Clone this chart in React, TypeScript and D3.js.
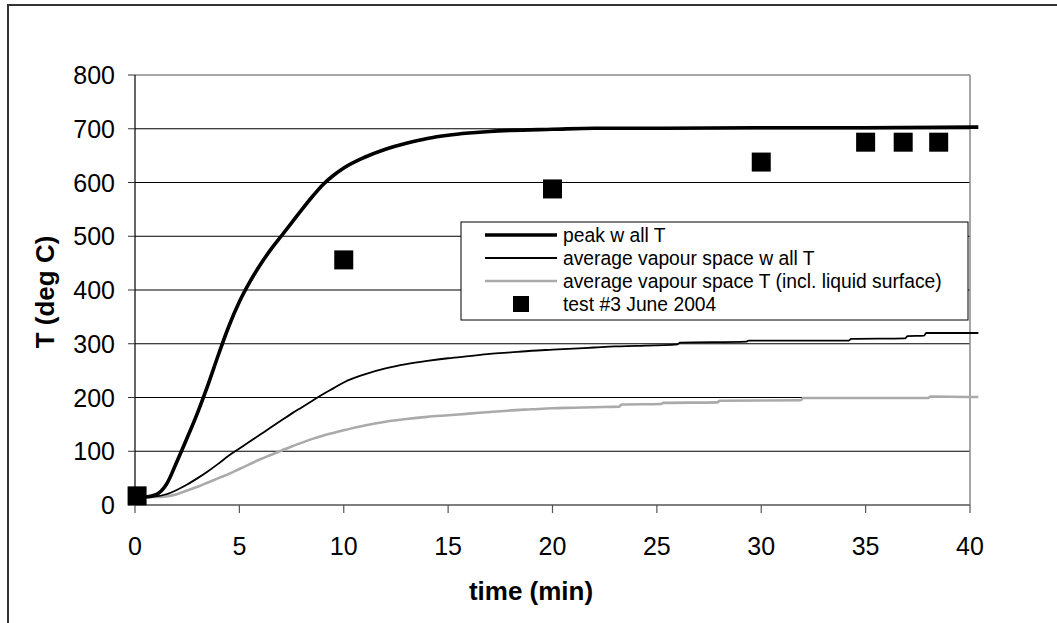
import React from "react";
import * as d3 from "d3";

// Temperature histories (time in min, temperature in deg C)
const peakWallT: [number, number][] = [
  [0, 15], [0.5, 15], [1, 19], [1.5, 38], [2, 80], [2.5, 125], [3, 172], [3.5, 224],
  [4, 280], [4.5, 333], [5, 378], [5.5, 415], [6, 447], [6.5, 475], [7, 500], [7.5, 525],
  [8, 550], [8.5, 574], [9, 596], [9.5, 613], [10, 627], [11, 647], [12, 662], [13, 673],
  [14, 682], [15, 688], [16, 692], [17, 695], [18, 697], [20, 699], [22, 701], [25, 701],
  [30, 702], [35, 702], [40.4, 703],
];

const avgVapourWallT: [number, number][] = [
  [0, 15], [1, 16], [1.5, 20], [2, 28], [2.5, 38], [3, 50], [3.5, 63], [4, 77], [4.5, 92],
  [5, 105], [5.5, 118], [6, 131], [6.5, 144], [7, 157], [7.5, 170], [8, 182], [8.5, 194],
  [9, 206], [9.5, 217], [10, 228], [11, 243], [12, 254], [13, 262], [14, 268], [15, 273],
  [16, 277], [17, 281], [18, 284], [19, 287], [20, 289], [21, 291], [22, 293], [23, 295],
  [24, 296], [26, 299], [26.1, 302], [29.3, 304], [29.4, 306], [34.2, 306], [34.3, 309],
  [36.9, 310], [37, 314], [37.8, 315], [37.9, 320], [40.4, 320],
];

const avgVapourSpaceT: [number, number][] = [
  [0, 15], [1, 15], [1.5, 16], [2, 20], [2.5, 27], [3, 34], [3.5, 42], [4, 50], [4.5, 58],
  [5, 67], [5.5, 76], [6, 85], [6.5, 93], [7, 101], [7.5, 109], [8, 116], [8.5, 123],
  [9, 129], [9.5, 134], [10, 139], [11, 148], [12, 155], [13, 160], [14, 164], [15, 167],
  [16, 170], [17, 173], [18, 176], [19, 178], [20, 180], [21, 181], [22, 182], [23.2, 183],
  [23.3, 187], [25.2, 188], [25.3, 190], [27.9, 191], [28, 194], [31.9, 195], [32, 199],
  [38, 199], [38.1, 202], [40.4, 201],
];

// Measured points, test #3 June 2004
const testTime = [0.1, 10, 20, 30, 35, 36.8, 38.5];
const testTemp = [17, 456, 588, 638, 675, 675, 675];

const xTicks = [0, 5, 10, 15, 20, 25, 30, 35, 40];
const yTicks = [0, 100, 200, 300, 400, 500, 600, 700, 800];

const legendLabels = [
  "peak w all T",
  "average vapour space w all T",
  "average vapour space T (incl. liquid surface)",
  "test #3 June 2004",
];

const W = 1057;
const H = 623;
const plot = { left: 135, right: 970, top: 75, bottom: 505 };
const FONT = "'Liberation Sans', Arial, Helvetica, sans-serif";

export default function App() {
  const x = d3.scaleLinear().domain([0, 40]).range([plot.left, plot.right]);
  const y = d3.scaleLinear().domain([0, 800]).range([plot.bottom, plot.top]);

  const line = d3
    .line<[number, number]>()
    .x((d) => x(d[0]))
    .y((d) => y(d[1]))
    .curve(d3.curveMonotoneX);

  const sq = 19;
  const legend = { x: 461, y: 222, w: 507, h: 98 };
  const rowY = [235, 258, 281, 304];
  const sampleX0 = 485;
  const sampleX1 = 557;
  const textX = 563;

  return (
    <svg
      width={W}
      height={H}
      style={{ position: "absolute", left: 0, top: 0, background: "#fff" }}
      fontFamily={FONT}
    >
      {/* chart frame */}
      <rect x={8} y={5} width={W + 20} height={H + 20} fill="#fff" stroke="#333" strokeWidth={2} />

      {/* horizontal gridlines */}
      {yTicks
        .filter((t) => t > 0 && t < 800)
        .map((t) => (
          <line key={`g${t}`} x1={plot.left} x2={plot.right} y1={y(t)} y2={y(t)} stroke="#000" strokeWidth={1} />
        ))}

      {/* plot area border (top/right) */}
      <line x1={plot.left} x2={plot.right} y1={plot.top} y2={plot.top} stroke="#888" strokeWidth={1.5} />
      <line x1={plot.right} x2={plot.right} y1={plot.top} y2={plot.bottom} stroke="#888" strokeWidth={1.5} />

      {/* y axis */}
      <line x1={plot.left} x2={plot.left} y1={plot.top} y2={plot.bottom} stroke="#000" strokeWidth={1.2} />
      {yTicks.map((t) => (
        <g key={`y${t}`}>
          <line x1={plot.left - 7} x2={plot.left} y1={y(t)} y2={y(t)} stroke="#333" strokeWidth={1} />
          <text x={115} y={y(t)} textAnchor="end" dominantBaseline="central" fontSize={25} fill="#000">
            {t}
          </text>
        </g>
      ))}

      {/* x axis */}
      <line x1={plot.left} x2={plot.right} y1={plot.bottom} y2={plot.bottom} stroke="#555" strokeWidth={1.5} />
      {xTicks.map((t) => (
        <g key={`x${t}`}>
          <line x1={x(t)} x2={x(t)} y1={plot.bottom} y2={plot.bottom + 8} stroke="#555" strokeWidth={1.2} />
          <text x={x(t)} y={546} textAnchor="middle" dominantBaseline="central" fontSize={25} fill="#000">
            {t}
          </text>
        </g>
      ))}

      {/* axis titles */}
      <text x={531} y={591} textAnchor="middle" dominantBaseline="central" fontSize={26} fontWeight="bold">
        time (min)
      </text>
      <text
        transform={`translate(45,292) rotate(-90)`}
        textAnchor="middle"
        dominantBaseline="central"
        fontSize={26}
        fontWeight="bold"
      >
        T (deg C)
      </text>

      {/* model curves */}
      <path d={line(avgVapourSpaceT) ?? ""} fill="none" stroke="#aaa" strokeWidth={2.6} />
      <path d={line(avgVapourWallT) ?? ""} fill="none" stroke="#000" strokeWidth={1.8} />
      <path d={line(peakWallT) ?? ""} fill="none" stroke="#000" strokeWidth={3.6} />

      {/* test data */}
      {testTime.map((t, i) => (
        <rect key={`m${i}`} x={x(t) - sq / 2} y={y(testTemp[i]) - sq / 2} width={sq} height={sq} fill="#000" />
      ))}

      {/* legend */}
      <rect x={legend.x} y={legend.y} width={legend.w} height={legend.h} fill="#fff" stroke="#000" strokeWidth={1} />
      <line x1={sampleX0} x2={sampleX1} y1={rowY[0]} y2={rowY[0]} stroke="#000" strokeWidth={3.6} />
      <line x1={sampleX0} x2={sampleX1} y1={rowY[1]} y2={rowY[1]} stroke="#000" strokeWidth={1.8} />
      <line x1={sampleX0} x2={sampleX1} y1={rowY[2]} y2={rowY[2]} stroke="#aaa" strokeWidth={2.6} />
      <rect x={(sampleX0 + sampleX1) / 2 - 8} y={rowY[3] - 8} width={16} height={16} fill="#000" />
      {legendLabels.map((s, i) => (
        <text key={s} x={textX} y={rowY[i]} dominantBaseline="central" fontSize={19.3} fill="#000">
          {s}
        </text>
      ))}
    </svg>
  );
}
